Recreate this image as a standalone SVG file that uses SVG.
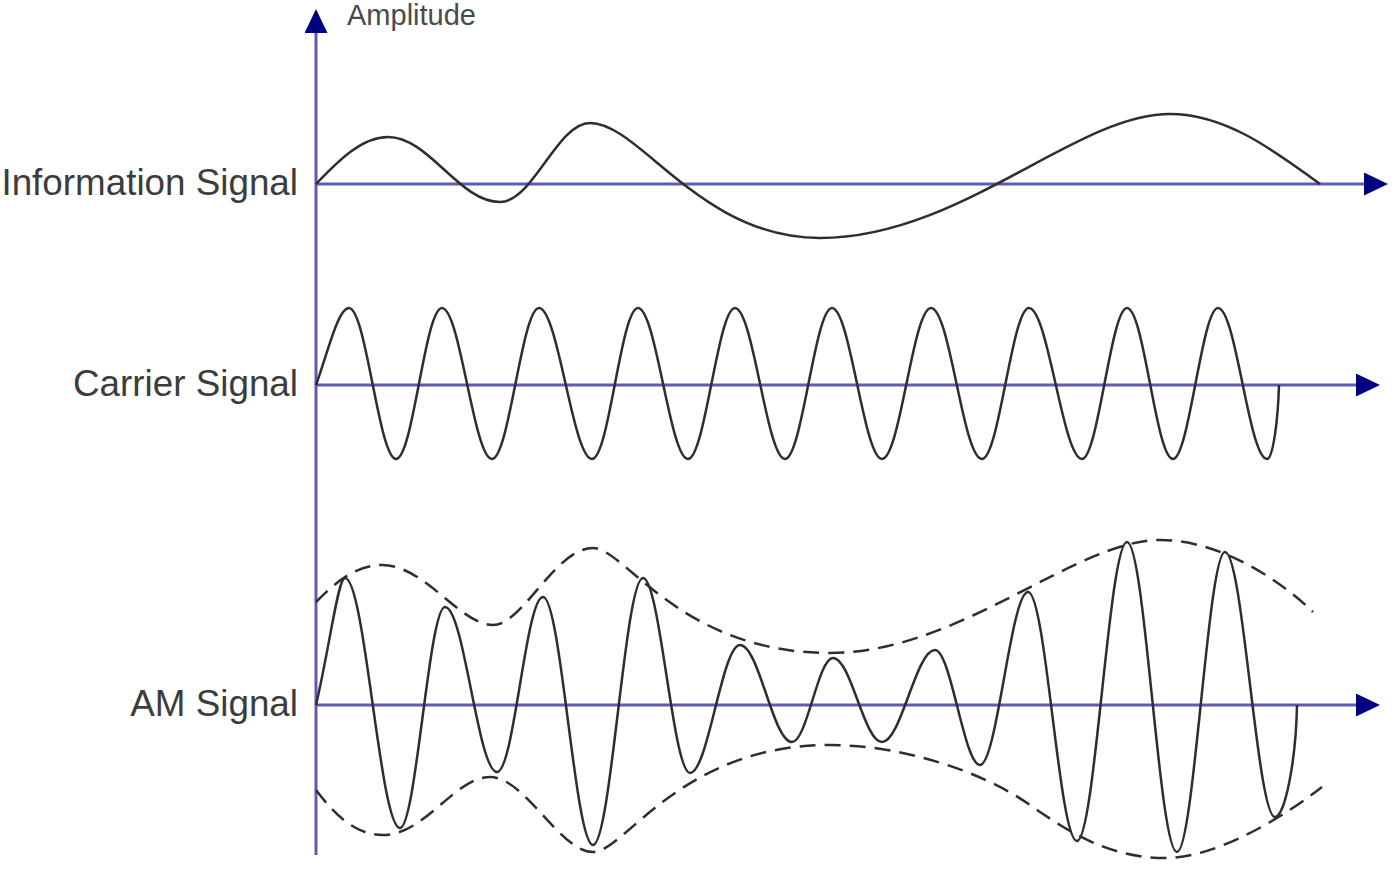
<svg xmlns="http://www.w3.org/2000/svg" width="1398" height="884" viewBox="0 0 1398 884">
<style>
.lbl{font-family:"Liberation Sans",Arial,sans-serif;font-size:36.8px;fill:#3c3c3c;text-anchor:end}
.amp{font-family:"Liberation Sans",Arial,sans-serif;font-size:29px;fill:#4a4a4a}
.axis{stroke:#5c5cb4;stroke-width:3;fill:none}
.wave{stroke:#2e2e2e;stroke-width:2.5;fill:none;stroke-linejoin:round}
.env{stroke:#2e2e2e;stroke-width:2.5;fill:none;stroke-dasharray:16 9}
</style>
<defs>
<marker id="arr" viewBox="0 0 24 23" refX="0" refY="11.5" markerWidth="24" markerHeight="23" markerUnits="userSpaceOnUse" orient="auto">
<path d="M0,0 L24,11.5 L0,23 Z" fill="#000080"/>
</marker>
</defs>
<rect width="1398" height="884" fill="#ffffff"/>
<g id="connectors">
<line class="axis" x1="316" y1="855" x2="316" y2="33" marker-end="url(#arr)"/>
<line class="axis" x1="316" y1="184" x2="1364" y2="184" marker-end="url(#arr)"/>
<line class="axis" x1="316" y1="385" x2="1356" y2="385" marker-end="url(#arr)"/>
<line class="axis" x1="316" y1="705" x2="1356" y2="705" marker-end="url(#arr)"/>
</g>
<g id="amplitude-label">
<text class="amp" x="347" y="25">Amplitude</text>
</g>
<g id="information-signal">
<text class="lbl" x="298" y="195">Information Signal</text>
<path class="wave" d="M316,184 C339,160 362,137 388,137 C429,137 459,202 500,202 C533,202 557,123 590,123 C640,123 700,238 820,238 C960,238 1075,114 1170,114 C1224,114 1271,148 1320,184"/>
</g>
<g id="carrier-signal">
<text class="lbl" x="298" y="396">Carrier Signal</text>
<path class="wave" d="M316,385 C328,352 338,308 349,308 C366,308 379,459 396,459 C413,459 425,308 442,308 C460,308 474,459 492,459 C509,459 522,308 539,308 C558,308 573,459 592,459 C609,459 621,308 638,308 C656,308 670,459 688,459 C705,459 718,308 735,308 C753,308 767,459 785,459 C802,459 815,308 832,308 C850,308 864,459 882,459 C900,459 913,308 931,308 C950,308 963,459 982,459 C999,459 1012,308 1029,308 C1048,308 1063,459 1082,459 C1098,459 1111,308 1127,308 C1144,308 1156,459 1173,459 C1189,459 1202,308 1218,308 C1236,308 1249,459 1267,459 C1273,459 1278,420 1279,385"/>
</g>
<g id="am-signal">
<text class="lbl" x="298" y="716">AM Signal</text>
<path class="env" d="M316,602 C335,583 355,565 382,565 C425,565 460,625 493,625 C523,625 555,548 593,548 C625,548 680,653 830,653 C960,653 1075,540 1160,540 C1220,540 1280,580 1313,612"/>
<path class="env" d="M316,790 C335,815 355,835 383,835 C425,835 455,777 490,777 C525,777 560,852 593,852 C625,852 680,745 830,745 C900,745 980,770 1030,805 C1070,833 1110,858 1165,858 C1220,858 1290,812 1322,787"/>
<path class="wave" d="M316,705 C330,645 338,578 345,578 C365,578 380,828 400,828 C416,828 429,607 445,607 C464,607 478,772 497,772 C514,772 526,597 543,597 C561,597 575,845 593,845 C611,845 625,578 643,578 C660,578 673,773 690,773 C708,773 722,645 740,645 C759,645 773,742 792,742 C807,742 818,658 833,658 C851,658 864,742 882,742 C901,742 916,650 935,650 C951,650 964,765 980,765 C997,765 1011,592 1028,592 C1046,592 1059,841 1077,841 C1095,841 1109,542 1127,542 C1145,542 1159,852 1177,852 C1194,852 1208,552 1225,552 C1243,552 1257,817 1275,817 C1285,817 1296,760 1297,705"/>
</g>
</svg>
